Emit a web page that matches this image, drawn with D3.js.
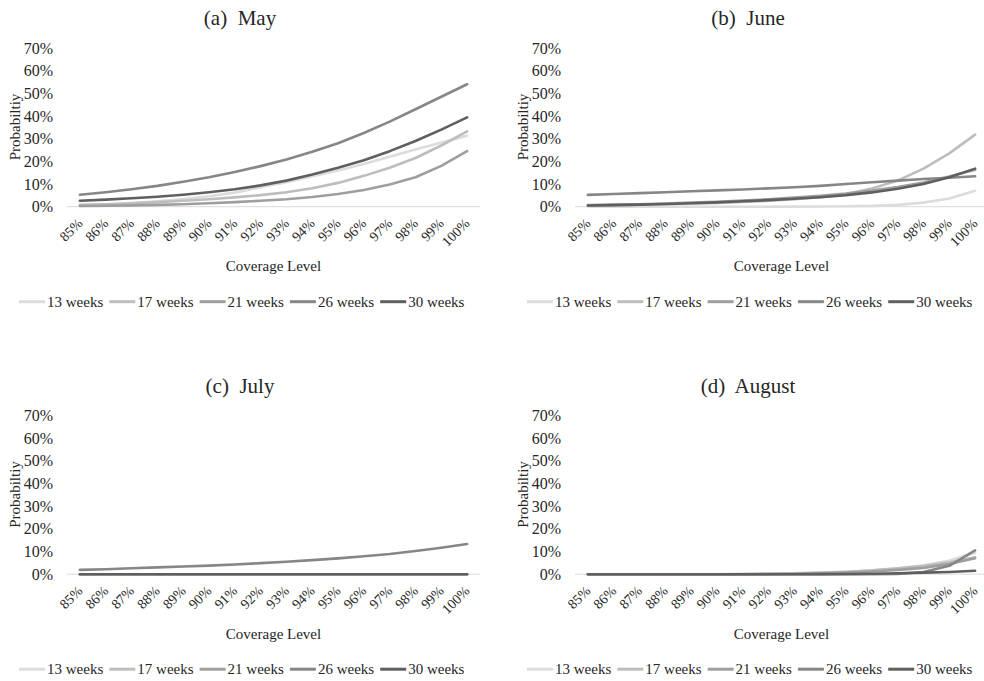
<!DOCTYPE html>
<html>
<head>
<meta charset="utf-8">
<script src="https://cdn.jsdelivr.net/npm/d3@7"></script>
<style>
  html, body { margin: 0; padding: 0; background: #fff; }
  svg { display: block; font-family: "Liberation Serif", "Times New Roman", serif; }
</style>
</head>
<body>
<script>
// ---------- data ----------
const categories = ["85%","86%","87%","88%","89%","90%","91%","92%","93%","94%","95%","96%","97%","98%","99%","100%"];
const seriesNames = ["13 weeks","17 weeks","21 weeks","26 weeks","30 weeks"];
const seriesColors = ["#dcdcdc","#bdbdbd","#9e9e9e","#868686","#5f5f5f"];
const yTicks = [0,0.1,0.2,0.3,0.4,0.5,0.6,0.7];
const panelTitles = ["(a)  May","(b)  June","(c)  July","(d)  August"];

// values in percent, one array per series (13, 17, 21, 26, 30 weeks)
const mayValues = [
  [0.6,1.0,1.6,2.4,3.4,4.6,6.2,8.6,10.8,13.4,16.0,18.8,22.0,25.2,28.3,31.3],
  [0.8,1.1,1.5,2.0,2.6,3.3,4.1,5.1,6.4,8.1,10.5,13.6,17.2,21.5,27.0,33.2],
  [0.3,0.4,0.6,0.8,1.1,1.5,2.0,2.6,3.3,4.3,5.6,7.4,9.8,13.0,18.0,24.5],
  [5.3,6.4,7.7,9.2,11.0,13.0,15.3,17.9,20.8,24.2,28.0,32.5,37.5,43.0,48.5,54.0],
  [2.6,3.1,3.7,4.4,5.3,6.4,7.7,9.4,11.5,14.2,17.2,20.5,24.5,29.0,34.0,39.4]
];
const juneValues = [
  [0,0,0,0,0,0,0,0,0.05,0.1,0.2,0.35,0.8,1.8,3.6,7.0],
  [0.5,0.7,0.9,1.1,1.4,1.7,2.1,2.6,3.3,4.2,5.6,8.0,11.5,16.8,23.5,31.8],
  [0.7,0.9,1.1,1.4,1.8,2.2,2.7,3.3,4.0,4.8,5.8,7.1,8.7,10.7,13.3,16.3],
  [5.2,5.6,6.0,6.4,6.8,7.2,7.6,8.1,8.6,9.2,10.0,10.8,11.5,12.2,12.8,13.4],
  [0.5,0.7,0.9,1.2,1.5,1.9,2.4,2.9,3.5,4.2,5.1,6.3,7.9,10.0,13.0,16.8]
];
const julyValues = [
  [0,0,0,0,0,0,0,0,0,0,0,0,0,0,0,0],
  [0,0,0,0,0,0,0,0,0,0,0,0,0,0,0,0],
  [0,0,0,0,0,0,0,0,0,0,0,0,0,0,0,0],
  [1.9,2.2,2.6,3.0,3.4,3.8,4.3,4.9,5.5,6.2,7.0,7.9,8.9,10.2,11.7,13.3],
  [0,0,0,0,0,0,0,0,0,0,0,0,0,0,0,0]
];
const augustValues = [
  [0,0,0,0,0,0,0.05,0.15,0.3,0.6,1.0,1.6,2.5,3.8,6.0,9.5],
  [0,0,0,0,0,0,0.1,0.2,0.4,0.7,1.1,1.7,2.6,3.7,5.3,7.5],
  [0,0,0,0,0,0,0,0.1,0.2,0.4,0.7,1.2,1.9,2.8,4.5,7.0],
  [0,0,0,0,0,0,0,0,0,0,0,0,0.1,1.0,3.7,10.5],
  [0,0,0,0,0,0,0,0,0,0.05,0.1,0.2,0.4,0.7,1.0,1.5]
];
const panelValues = [mayValues, juneValues, julyValues, augustValues];

// ---------- layout ----------
const W = 984, H = 681;
const panelOffsets = [[0,0],[508,0],[0,367.5],[508,367.5]];
const textColor = "#262626";

const svg = d3.select("body").append("svg").attr("width", W).attr("height", H);

const x = d3.scalePoint().domain(categories).range([67, 480]).padding(0.5);
const y = d3.scaleLinear().domain([0, 0.7]).range([206.7, 48]);
const line = d3.line()
  .x((d, i) => x(categories[i]))
  .y(d => y(d / 100));

panelValues.forEach((vals, p) => {
  const g = svg.append("g").attr("transform", `translate(${panelOffsets[p][0]},${panelOffsets[p][1]})`);

  // title
  g.append("text")
    .attr("x", 240).attr("y", 25)
    .attr("text-anchor", "middle")
    .style("white-space", "pre")
    .attr("font-size", 21).attr("fill", textColor)
    .text(panelTitles[p]);

  // baseline
  g.append("line")
    .attr("x1", x.range()[0]).attr("x2", x.range()[1])
    .attr("y1", y(0)).attr("y2", y(0))
    .attr("stroke", "#d9d9d9").attr("stroke-width", 1);

  // y axis labels
  const ya = g.append("g").attr("transform", "translate(53,0)")
    .call(d3.axisLeft(y).tickValues(yTicks).tickFormat(d3.format(".0%")).tickSize(0).tickPadding(0));
  ya.select(".domain").remove();
  ya.selectAll("text").attr("font-size", 16).attr("fill", textColor)
    .attr("font-family", "Liberation Serif, Times New Roman, serif");

  // x axis labels
  const xa = g.append("g").attr("transform", `translate(0,${y(0)})`)
    .call(d3.axisBottom(x).tickSize(0));
  xa.select(".domain").remove();
  xa.selectAll("text")
    .attr("y", 0).attr("dy", null)
    .attr("transform", "translate(3,17.5) rotate(-45)")
    .style("text-anchor", "end")
    .attr("font-size", 14).attr("fill", textColor)
    .attr("font-family", "Liberation Serif, Times New Roman, serif");

  // axis titles
  g.append("text")
    .attr("transform", "translate(20,127) rotate(-90)")
    .attr("text-anchor", "middle")
    .attr("font-size", 15).attr("fill", textColor)
    .text("Probabiltiy");
  g.append("text")
    .attr("x", (x.range()[0] + x.range()[1]) / 2).attr("y", 271)
    .attr("text-anchor", "middle")
    .attr("font-size", 15).attr("fill", textColor)
    .text("Coverage Level");

  // lines
  vals.forEach((s, i) => {
    g.append("path")
      .datum(s)
      .attr("d", line)
      .attr("fill", "none")
      .attr("stroke", seriesColors[i])
      .attr("stroke-width", 2.6)
      .attr("stroke-linejoin", "round")
      .attr("stroke-linecap", "round");
  });

  // legend
  const lg = g.append("g").attr("transform", "translate(19,301.7)");
  seriesNames.forEach((name, i) => {
    const it = lg.append("g").attr("transform", `translate(${i * 90.3},0)`);
    it.append("line").attr("x1", 0).attr("x2", 26).attr("y1", 0).attr("y2", 0)
      .attr("stroke", seriesColors[i]).attr("stroke-width", 3);
    it.append("text").attr("x", 28).attr("y", 5)
      .attr("font-size", 15).attr("fill", textColor)
      .text(name);
  });
});
</script>
</body>
</html>
